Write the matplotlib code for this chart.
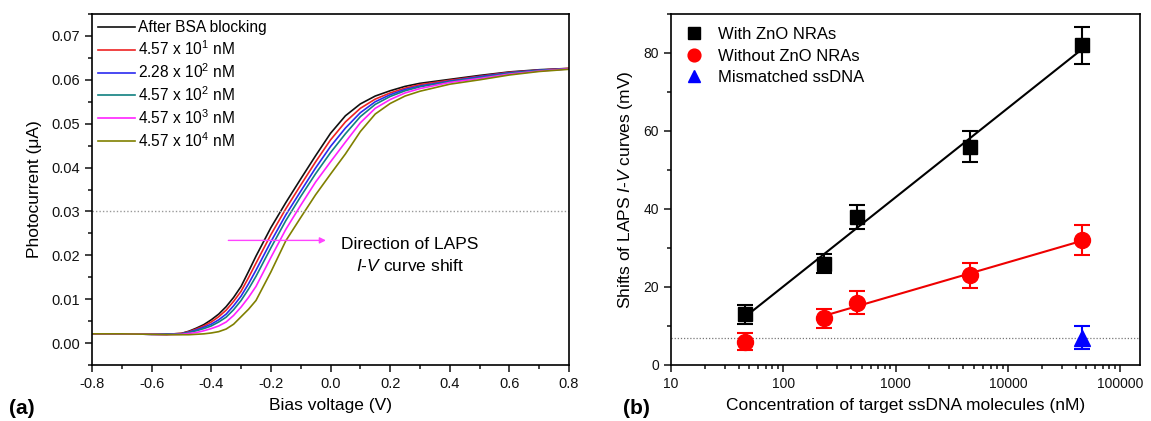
import numpy as np
import matplotlib
matplotlib.use("Agg")
import matplotlib.pyplot as plt
from matplotlib.ticker import MultipleLocator, FixedLocator, FuncFormatter

plt.rcParams['font.family'] = ['Liberation Sans', 'DejaVu Sans']
plt.rcParams['mathtext.fontset'] = 'custom'
plt.rcParams['mathtext.rm'] = 'Liberation Sans'
plt.rcParams['mathtext.it'] = 'Liberation Sans:italic'

# ---- panel (a): LAPS I-V curves ----
bias = [-0.8, -0.7, -0.6, -0.55, -0.5, -0.475, -0.45, -0.425, -0.4, -0.375, -0.35, -0.325,
        -0.3, -0.275, -0.25, -0.2, -0.15, -0.1, -0.05, 0.0, 0.05, 0.1, 0.15, 0.2, 0.25, 0.3,
        0.4, 0.5, 0.6, 0.7, 0.8]
i_bsa = [0.0021, 0.0021, 0.0020, 0.0020, 0.0022, 0.0027, 0.0034, 0.0042, 0.0053, 0.0066, 0.0083, 0.0104,
         0.0129, 0.0163, 0.0198, 0.0263, 0.0320, 0.0374, 0.0427, 0.0478, 0.0518, 0.0545, 0.0563, 0.0575,
         0.0585, 0.0592, 0.0601, 0.0610, 0.0618, 0.0623, 0.0626]
i_c1 = [0.0021, 0.0021, 0.0020, 0.0020, 0.0022, 0.0026, 0.0032, 0.0039, 0.0048, 0.0060, 0.0075, 0.0095,
        0.0118, 0.0149, 0.0182, 0.0247, 0.0306, 0.0360, 0.0413, 0.0463, 0.0504, 0.0535, 0.0556, 0.0570,
        0.0581, 0.0589, 0.0599, 0.0608, 0.0617, 0.0622, 0.0626]
i_c2 = [0.0021, 0.0021, 0.0020, 0.0020, 0.0021, 0.0025, 0.0030, 0.0036, 0.0043, 0.0053, 0.0066, 0.0085,
        0.0107, 0.0135, 0.0166, 0.0231, 0.0292, 0.0346, 0.0399, 0.0448, 0.0490, 0.0525, 0.0550, 0.0566,
        0.0578, 0.0586, 0.0597, 0.0607, 0.0616, 0.0622, 0.0625]
i_c3 = [0.0021, 0.0021, 0.0020, 0.0020, 0.0021, 0.0024, 0.0028, 0.0033, 0.0039, 0.0048, 0.0059, 0.0076,
        0.0097, 0.0123, 0.0152, 0.0217, 0.0279, 0.0334, 0.0386, 0.0434, 0.0477, 0.0516, 0.0544, 0.0562,
        0.0575, 0.0584, 0.0596, 0.0605, 0.0615, 0.0621, 0.0625]
i_c4 = [0.0021, 0.0021, 0.0020, 0.0019, 0.0020, 0.0022, 0.0024, 0.0028, 0.0033, 0.0039, 0.0048, 0.0063,
        0.0082, 0.0104, 0.0129, 0.0195, 0.0259, 0.0314, 0.0367, 0.0413, 0.0458, 0.0502, 0.0535, 0.0555,
        0.0570, 0.0580, 0.0594, 0.0603, 0.0613, 0.0620, 0.0625]
i_c5 = [0.0021, 0.0021, 0.0020, 0.0019, 0.0019, 0.0019, 0.0020, 0.0021, 0.0023, 0.0026, 0.0032, 0.0043,
        0.0060, 0.0077, 0.0097, 0.0162, 0.0233, 0.0286, 0.0338, 0.0385, 0.0431, 0.0482, 0.0522, 0.0546,
        0.0563, 0.0574, 0.0590, 0.0600, 0.0611, 0.0619, 0.0624]
curve_labels = ['After BSA blocking', '4.57 x 10$^{1}$ nM', '2.28 x 10$^{2}$ nM',
                '4.57 x 10$^{2}$ nM', '4.57 x 10$^{3}$ nM', '4.57 x 10$^{4}$ nM']
curve_colors = ['#111111', '#ee2222', '#2a2af0', '#118080', '#ff22ff', '#808000']

# ---- panel (b): potential shifts ----
conc = [45.7, 228, 457, 4570, 45700]
with_zno = [13, 26, 38, 56, 82]
with_zno_err = [2.5, 2.5, 3.0, 4.0, 4.7]
without_zno = [6, 12, 16, 23, 32]
without_zno_err = [2.2, 2.4, 3.0, 3.2, 3.8]
mis_conc = [45700]
mis_shift = [7]
mis_err = [3.0]

W, H = 1151, 421
fig = plt.figure(figsize=(W / 100, H / 100), dpi=100)
ax1 = fig.add_axes([92 / W, 56 / H, 477 / W, 351 / H])
ax2 = fig.add_axes([671 / W, 56 / H, 469 / W, 351 / H])

for ax in (ax1, ax2):
    for sp in ax.spines.values():
        sp.set_linewidth(1.2)
    ax.tick_params(which='both', direction='out', top=False, right=False,
                   labelsize=10, colors='#111111', width=1.1)
    ax.tick_params(which='major', length=5)
    ax.tick_params(which='minor', length=3)
ax1.tick_params(labelsize=10.5)

# panel (a)
for ys, lab, c in zip([i_bsa, i_c1, i_c2, i_c3, i_c4, i_c5], curve_labels, curve_colors):
    ax1.plot(bias, ys, color=c, lw=1.2, label=lab)
ax1.axhline(0.03, color='#999999', lw=1, ls=(0, (1, 1.5)))
ax1.set_xlim(-0.8, 0.8)
ax1.set_ylim(-0.005, 0.075)
ax1.xaxis.set_major_locator(MultipleLocator(0.2))
ax1.xaxis.set_minor_locator(MultipleLocator(0.1))
ax1.yaxis.set_major_locator(MultipleLocator(0.01))
ax1.yaxis.set_minor_locator(MultipleLocator(0.005))
ax1.xaxis.set_major_formatter(FuncFormatter(lambda v, p: '%.1f' % v))
ax1.yaxis.set_major_formatter(FuncFormatter(lambda v, p: '%.2f' % v))
ax1.set_xlabel('Bias voltage (V)', fontsize=12.5, labelpad=5)
ax1.set_ylabel('Photocurrent (\u03bcA)', fontsize=12.5, labelpad=7)
ax1.legend(loc='upper left', frameon=False, fontsize=11.2, handlelength=2.35,
           handletextpad=0.2, labelspacing=0.27, borderaxespad=0.2, borderpad=0.2)
ax1.annotate('', xy=(-0.006, 0.0234), xytext=(-0.352, 0.0234),
             arrowprops=dict(arrowstyle='-|>', color='#ff44ff', lw=1.0, mutation_scale=9))
ax1.text(0.267, 0.0224, 'Direction of LAPS', ha='center', va='center', fontsize=12.5)
ax1.text(0.267, 0.0176, '$I$-$V$ curve shift', ha='center', va='center', fontsize=12.5)

# panel (b)
lx = np.log10(conc)
k1, b1 = np.polyfit(lx, with_zno, 1)
k2, b2 = np.polyfit(lx[1:], without_zno[1:], 1)
ax2.plot(conc, k1 * lx + b1, color='black', lw=1.5)
ax2.plot(conc[1:], k2 * lx[1:] + b2, color='#ee0000', lw=1.5)
ax2.axhline(7, color='#777777', lw=0.9, ls=(0, (1, 1.5)))
eb = dict(capsize=6, elinewidth=1.5, capthick=1.5, ls='none')
ax2.errorbar(conc, with_zno, yerr=with_zno_err, fmt='s', color='black', ms=10,
             label='With ZnO NRAs', **eb)
ax2.errorbar(conc, without_zno, yerr=without_zno_err, fmt='o', color='#ff0000', ms=11.5,
             label='Without ZnO NRAs', **eb)
ax2.errorbar(mis_conc, mis_shift, yerr=mis_err, fmt='^', color='#0000ff', ms=11.5,
             label='Mismatched ssDNA', **eb)
ax2.set_xscale('log')
ax2.set_xlim(10, 1.5e5)
ax2.set_ylim(0, 90)
ax2.yaxis.set_major_locator(MultipleLocator(20))
ax2.yaxis.set_minor_locator(MultipleLocator(10))
ax2.xaxis.set_major_locator(FixedLocator([10, 100, 1000, 10000, 100000]))
ax2.set_xticklabels(['10', '100', '1000', '10000', '100000'])
ax2.set_xlabel('Concentration of target ssDNA molecules (nM)', fontsize=12.5, labelpad=5)
ax2.set_ylabel('Shifts of LAPS $I$-$V$ curves (mV)', fontsize=12.5, labelpad=6)
h, l = ax2.get_legend_handles_labels()
hh = [x[0] for x in h]
ax2.legend(hh, l, loc='upper left', frameon=False, fontsize=12, handlelength=1.1,
           handletextpad=0.95, labelspacing=0.38, borderaxespad=0.45, borderpad=0.35,
           markerscale=0.8)

fig.text(22 / W, 1 - 409 / H, '(a)', fontsize=15, fontweight='bold', ha='center', va='center')
fig.text(636 / W, 1 - 409 / H, '(b)', fontsize=15, fontweight='bold', ha='center', va='center')

fig.savefig('out.png', dpi=100)
